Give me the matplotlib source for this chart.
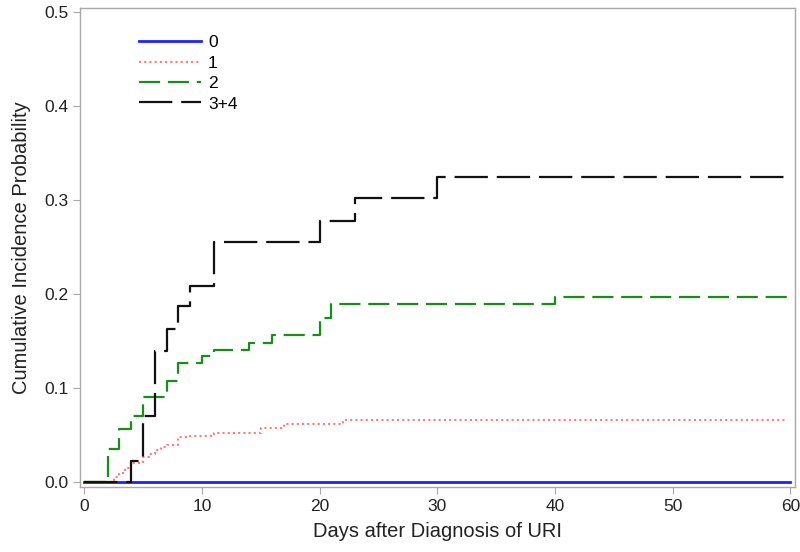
import matplotlib
matplotlib.use("Agg")
import matplotlib.pyplot as plt

plt.rcParams['font.family'] = ['Liberation Sans', 'DejaVu Sans']

# step data (days, cumulative incidence)
days_0 = [0, 60]
cif_0 = [0.0, 0.0]

days_1 = [0, 2.5, 3, 3.5, 4, 5, 5.5, 6, 6.5, 7, 8, 9, 11, 15, 17, 22, 59.7]
cif_1 = [0.0, 0.005, 0.010, 0.015, 0.020, 0.027, 0.030, 0.034, 0.037, 0.040,
         0.048, 0.049, 0.052, 0.058, 0.062, 0.066, 0.066]

days_2 = [0, 2, 3, 4, 5, 7, 8, 10, 11, 14, 16, 20, 21, 40, 60]
cif_2 = [0.0, 0.035, 0.057, 0.070, 0.091, 0.108, 0.127, 0.134, 0.141,
         0.148, 0.157, 0.175, 0.190, 0.197, 0.197]

days_34 = [0, 4, 5, 6, 7, 8, 9, 11, 20, 23, 30, 60]
cif_34 = [0.0, 0.023, 0.070, 0.140, 0.163, 0.187, 0.209, 0.256, 0.278,
          0.302, 0.325, 0.325]

group_labels = ['0', '1', '2', '3+4']

fig = plt.figure(figsize=(8.0, 5.52), dpi=100)
ax = fig.add_axes([0.10, 0.118, 0.894, 0.868])

ax.step(days_0, cif_0, where='post', color='#2020ff', lw=2.0, label=group_labels[0])
ax.step(days_1, cif_1, where='post', color='#ff7a7a', lw=1.5,
        linestyle=(0, (1, 1.5)), label=group_labels[1])
ax.step(days_2, cif_2, where='post', color='#1a8c1a', lw=1.6,
        linestyle=(0, (9.5, 3.5)), label=group_labels[2])
ax.step(days_34, cif_34, where='post', color='#111111', lw=1.6,
        linestyle=(0, (15, 4)), label=group_labels[3])

ax.set_xlim(-0.35, 60.4)
ax.set_ylim(-0.005, 0.505)
ax.set_xticks([0, 10, 20, 30, 40, 50, 60])
ax.set_yticks([0.0, 0.1, 0.2, 0.3, 0.4, 0.5])
ax.set_yticklabels(['0.0', '0.1', '0.2', '0.3', '0.4', '0.5'])

for s in ax.spines.values():
    s.set_color('#a8a8a8')
    s.set_linewidth(1.0)
ax.tick_params(direction='out', length=5, color='#a8a8a8', labelsize=12.5,
               labelcolor='#222222')

ax.set_xlabel('Days after Diagnosis of URI', fontsize=14.5, color='#222222', labelpad=6)
ax.set_ylabel('Cumulative Incidence Probability', fontsize=14.5, color='#222222', labelpad=9)

ax.legend(loc='upper left', bbox_to_anchor=(0.06, 0.975), frameon=False,
          fontsize=12.5, handlelength=3.6, handletextpad=0.4, labelspacing=0.3)

fig.savefig('out.png', dpi=100)
